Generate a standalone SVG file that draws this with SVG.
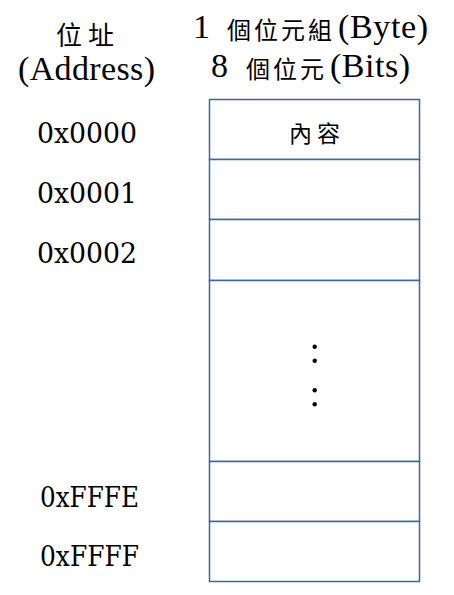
<svg xmlns="http://www.w3.org/2000/svg" width="454" height="595" viewBox="0 0 454 595">
<style>
.lat{font-family:"Liberation Serif",serif;font-size:34px;fill:#000}
.han{font-family:"Noto Sans CJK TC",sans-serif;font-size:24px;fill:#000;letter-spacing:3px}
.addr{font-family:"DejaVu Serif",serif;font-size:27px;fill:#000}
.cell{fill:#fff;stroke:#3a66a8;stroke-width:1.5}
.cjk{font-family:"Noto Sans CJK TC",sans-serif;font-size:23px;fill:#000;letter-spacing:5px}
</style>
<rect width="454" height="595" fill="#fff"/>
<g id="headers">
<text class="han" x="56" y="45" style="font-size:26px;letter-spacing:6px">位址</text>
<text class="lat" x="18" y="80" textLength="137">(Address)</text>
<text class="lat" x="193" y="38">1</text>
<text class="han" x="227" y="39">個位元組</text>
<text class="lat" x="338" y="38" textLength="90">(Byte)</text>
<text class="lat" x="211" y="77">8</text>
<text class="han" x="246" y="78">個位元</text>
<text class="lat" x="330" y="77" textLength="80">(Bits)</text>
</g>
<g id="addresses">
<text class="addr" x="37" y="143" textLength="100" lengthAdjust="spacingAndGlyphs">0x0000</text>
<text class="addr" x="37" y="203" textLength="100" lengthAdjust="spacingAndGlyphs">0x0001</text>
<text class="addr" x="37" y="263" textLength="100" lengthAdjust="spacingAndGlyphs">0x0002</text>
<text class="addr" x="40" y="507" textLength="99" lengthAdjust="spacingAndGlyphs">0xFFFE</text>
<text class="addr" x="40" y="566" textLength="99" lengthAdjust="spacingAndGlyphs">0xFFFF</text>
</g>
<g id="cell0"><rect class="cell" x="209.5" y="99.5" width="210" height="60"/><text class="cjk" x="289" y="142">內容</text></g>
<g id="cell1"><rect class="cell" x="209.5" y="159.5" width="210" height="60"/></g>
<g id="cell2"><rect class="cell" x="209.5" y="219.5" width="210" height="61"/></g>
<g id="cellgap"><rect class="cell" x="209.5" y="280.5" width="210" height="181"/>
<circle cx="314.7" cy="346.7" r="2.2"/><circle cx="314.7" cy="360.7" r="2.2"/><circle cx="314.7" cy="390.3" r="2.2"/><circle cx="314.7" cy="404.3" r="2.2"/></g>
<g id="cellFFFE"><rect class="cell" x="209.5" y="461.5" width="210" height="60"/></g>
<g id="cellFFFF"><rect class="cell" x="209.5" y="521.5" width="210" height="60"/></g>
<g id="connectors"/>
</svg>
